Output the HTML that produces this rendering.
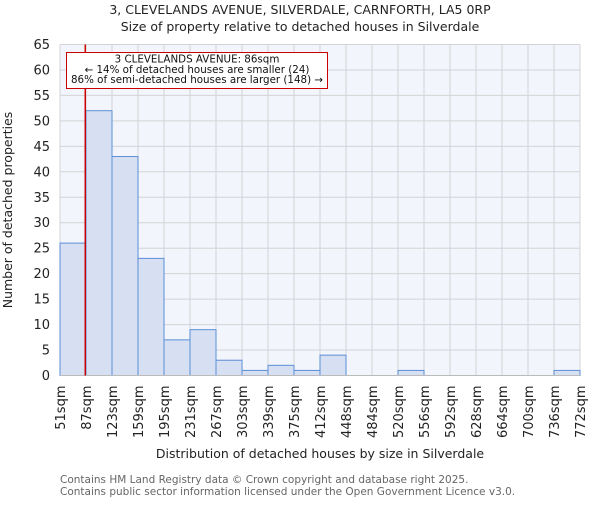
<!DOCTYPE html>
<html><head><meta charset="utf-8"><style>
body{margin:0;background:#fff;font-family:"Liberation Sans","DejaVu Sans",sans-serif;}
svg text{font-family:"DejaVu Sans","Liberation Sans",sans-serif;}
</style></head><body>
<svg id="c" width="600" height="500">
<text x="300" y="14" text-anchor="middle" font-size="12.5" fill="#222">3, CLEVELANDS AVENUE, SILVERDALE, CARNFORTH, LA5 0RP</text>
<text x="300" y="31" text-anchor="middle" font-size="12.5" fill="#222">Size of property relative to detached houses in Silverdale</text>
<g id="plot"></g>
<text x="320" y="458" text-anchor="middle" font-size="12.5" fill="#222">Distribution of detached houses by size in Silverdale</text>
<text transform="translate(12,210) rotate(-90)" text-anchor="middle" font-size="12.5" fill="#222">Number of detached properties</text>
<text x="60" y="483" font-size="10.5" fill="#666">Contains HM Land Registry data © Crown copyright and database right 2025.</text>
<text x="60" y="495" font-size="10.5" fill="#666">Contains public sector information licensed under the Open Government Licence v3.0.</text>
</svg>
<script>
const binEdges=[51,87,123,159,195,231,267,303,339,375,412,448,484,520,556,592,628,664,700,736,772];
const tickLabels=["51sqm","87sqm","123sqm","159sqm","195sqm","231sqm","267sqm","303sqm","339sqm","375sqm","412sqm","448sqm","484sqm","520sqm","556sqm","592sqm","628sqm","664sqm","700sqm","736sqm","772sqm"];
const counts=[26,52,43,23,7,9,3,1,2,1,4,0,0,1,0,0,0,0,0,1];
const yTicks=[0,5,10,15,20,25,30,35,40,45,50,55,60,65];
const propertySize=86;
const L=60,R=580,T=44.5,B=375.5,YMAX=65;
const ns="http://www.w3.org/2000/svg";
const g=document.getElementById('plot');
function xi(i){return L+(R-L)*i/(binEdges.length-1);}
function xv(v){for(let i=0;i<binEdges.length-1;i++){if(v<=binEdges[i+1])return xi(i)+(v-binEdges[i])/(binEdges[i+1]-binEdges[i])*(xi(i+1)-xi(i));}return R;}
function y(v){return B-(B-T)*v/YMAX;}
function mk(t,a){const e=document.createElementNS(ns,t);for(const k in a)e.setAttribute(k,a[k]);g.appendChild(e);return e;}
const bg=mk('rect',{x:L,y:T,width:R-L,height:B-T,fill:'#f2f5fc'});


yTicks.forEach(v=>{
 const l=mk('line',{x1:L,x2:R,y1:y(v),y2:y(v),stroke:'#d4d4d4','stroke-width':1});
 
 
 const t=mk('text',{x:L-10,y:y(v)+4.5,'text-anchor':'end','font-size':13,fill:'#222'});
 t.textContent=v;
 
 
});
binEdges.forEach((e,i)=>{
 const l=mk('line',{x1:xi(i),x2:xi(i),y1:T,y2:B,stroke:'#d4d4d4','stroke-width':1});
 
 
 const t=mk('text',{transform:`translate(${xi(i)+5},${B+10}) rotate(-90)`,'text-anchor':'end','font-size':13,fill:'#222'});
 t.textContent=tickLabels[i];
 
 
});
counts.forEach((c,i)=>{
 if(c<=0)return;
 const r=mk('rect',{x:xi(i),y:y(c),width:xi(i+1)-xi(i),height:B-y(c),fill:'#d6e0f2',stroke:'#5b8ed6','stroke-width':1});
 
 
});
const ax=mk('line',{x1:L,x2:R,y1:B,y2:B,stroke:'#bbbbbb','stroke-width':1});


const ml=mk('line',{x1:xv(propertySize),x2:xv(propertySize),y1:T,y2:B,stroke:'#cc0000','stroke-width':1.5});


const box=mk('rect',{x:66.5,y:52.5,width:261,height:36,fill:'#fff',stroke:'#cc0000','stroke-width':1});


["3 CLEVELANDS AVENUE: 86sqm","← 14% of detached houses are smaller (24)","86% of semi-detached houses are larger (148) →"].forEach((s,i)=>{
 const t=mk('text',{x:197,y:62.5+i*10.3,'text-anchor':'middle','font-size':10.3,fill:'#111'});
 t.textContent=s;
 
 
});
</script>
</body></html>
